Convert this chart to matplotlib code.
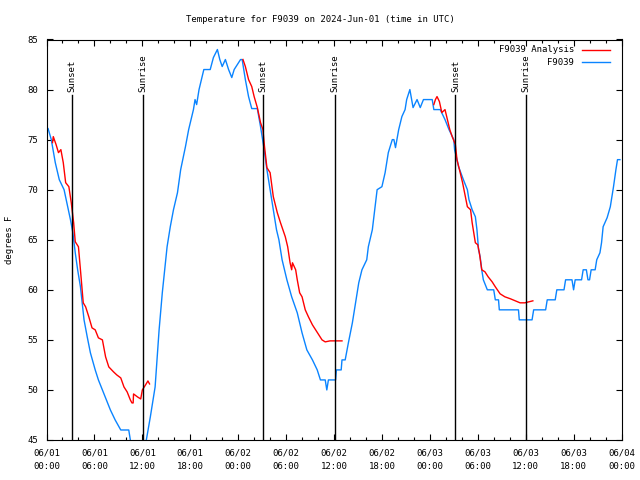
import numpy as np
import matplotlib
matplotlib.use('Agg')
import matplotlib.pyplot as plt
from matplotlib.ticker import MultipleLocator

# hours since 2024-06-01 00:00 UTC
obs_hours = [0.2, 0.6, 1.1, 1.6, 2.2, 2.6, 3.0, 3.3, 3.6, 3.9, 4.25, 4.7, 5.1, 5.5, 6.1, 6.5,
             7.0, 7.5, 8.0, 8.6, 9.3, 10.3, 10.5, 11.0, 12.0, 12.5, 13.0, 13.6, 14.1, 14.5, 15.1,
             15.5, 15.9, 16.4, 16.8, 17.4, 17.8, 18.4, 18.6, 18.8, 19.1, 19.7, 20.5, 20.9, 21.4,
             21.7, 22.0, 22.4, 22.8, 23.2, 23.5, 23.9, 24.3, 24.5, 24.9, 25.3, 25.7, 26.4, 26.8,
             27.2, 27.6, 28.0, 28.4, 28.8, 29.1, 29.5, 30.1, 30.7, 31.4, 32.0, 32.6, 33.3, 33.9,
             34.3, 34.9, 35.1, 35.3, 36.2, 36.3, 36.9, 37.0, 37.4, 37.8, 38.3, 38.7, 39.1, 39.5,
             40.1, 40.3, 40.8, 41.2, 41.4, 42.0, 42.4, 42.8, 43.3, 43.5, 43.7, 44.1, 44.5, 44.9,
             45.1, 45.5, 45.9, 46.4, 46.8, 47.2, 48.3, 48.5, 49.3, 49.9, 50.4, 51.0, 51.1, 51.6,
             52.2, 52.7, 52.9, 53.3, 53.7, 53.9, 54.1, 54.3, 54.5, 54.7, 55.2, 56.0, 56.2, 56.6,
             56.7, 59.1, 59.2, 60.8, 61.0, 62.5, 62.7, 63.7, 63.9, 64.8, 65.0, 65.8, 66.0, 66.2,
             67.0, 67.2, 67.6, 67.8, 68.0, 68.2, 68.7, 68.9, 69.3, 69.5, 69.7, 70.2, 70.6, 71.0,
             71.3, 71.5, 71.8]
obs_temp = [76.1, 75.0, 72.7, 71.0, 70.0, 68.5, 67.0, 65.7, 63.7, 62.0, 60.3, 57.0, 55.3, 53.7,
            52.0, 51.0, 50.0, 49.0, 48.0, 47.0, 46.0, 46.0, 45.0, 44.0, 44.0, 45.0, 47.3, 50.3,
            56.0, 59.7, 64.3, 66.3, 68.0, 69.7, 72.0, 74.3, 76.0, 78.0, 79.0, 78.5, 80.0, 82.0,
            82.0, 83.2, 84.0, 83.0, 82.3, 83.0, 82.0, 81.2, 82.0, 82.5, 83.0, 83.0, 81.0, 79.3,
            78.1, 78.1, 76.3, 74.3, 72.0, 70.0, 68.0, 66.0, 65.0, 63.0, 61.0, 59.3, 57.7, 55.7,
            54.0, 53.0, 52.0, 51.0, 51.0, 50.0, 51.0, 51.0, 52.0, 52.0, 53.0, 53.0, 54.7, 56.7,
            58.7, 60.7, 62.0, 63.0, 64.3, 66.0, 68.7, 70.0, 70.3, 71.7, 73.7, 75.0, 75.0, 74.2,
            76.0, 77.3, 78.0, 79.0, 80.0, 78.2, 79.0, 78.2, 79.0, 79.0, 78.0, 78.0, 77.0, 76.0,
            75.0, 74.0, 72.3, 71.0, 70.0, 69.0, 68.0, 67.3, 66.0, 64.0, 63.3, 62.0, 61.0, 60.0,
            60.0, 59.0, 59.0, 58.0, 58.0, 57.0, 57.0, 58.0, 58.0, 59.0, 59.0, 60.0, 60.0, 61.0,
            61.0, 60.0, 61.0, 61.0, 62.0, 62.0, 61.0, 61.0, 62.0, 62.0, 63.0, 63.7, 64.7, 66.3,
            67.2, 68.3, 70.3, 72.0, 73.0, 73.0]

# analysis runs (three separate nights)
ana1_hours = [0.75, 0.85, 1.2, 1.5, 1.8, 2.1, 2.4, 2.8, 3.1, 3.4, 3.6, 4.0, 4.25, 4.6, 4.9, 5.3,
              5.7, 6.1, 6.5, 7.0, 7.4, 7.8, 8.4, 8.8, 9.3, 9.7, 10.1, 10.5, 10.7, 10.85, 10.9,
              11.4, 11.8, 12.0, 12.4, 12.7, 12.9]
ana1_temp = [74.7, 75.3, 74.5, 73.7, 74.0, 72.7, 70.7, 70.3, 68.7, 66.7, 64.8, 64.3, 62.0, 58.7,
             58.3, 57.3, 56.2, 56.0, 55.2, 55.0, 53.3, 52.3, 51.8, 51.5, 51.2, 50.3, 49.8, 49.0,
             48.7, 48.7, 49.6, 49.3, 49.1, 50.0, 50.5, 50.9, 50.6]
ana2_hours = [24.6, 24.9, 25.3, 25.7, 26.0, 26.4, 26.8, 27.1, 27.3, 27.6, 28.0, 28.4, 28.9, 29.3,
              29.9, 30.2, 30.5, 30.7, 30.8, 31.2, 31.4, 31.7, 32.0, 32.4, 32.8, 33.3, 33.7, 34.1,
              34.5, 34.9, 35.5, 36.2, 37.0]
ana2_temp = [83.0, 82.3, 81.0, 80.3, 79.3, 78.2, 76.7, 76.0, 74.3, 72.2, 71.7, 69.3, 67.7, 66.7,
             65.3, 64.3, 62.7, 62.0, 62.7, 62.0, 61.0, 59.7, 59.3, 58.0, 57.3, 56.5, 56.0, 55.5,
             55.0, 54.8, 54.9, 54.9, 54.9]
ana3_hours = [48.5, 48.7, 48.9, 49.2, 49.5, 49.9, 50.2, 50.5, 50.8, 51.2, 51.4, 51.8, 52.1, 52.4,
              52.7, 53.1, 53.3, 53.5, 53.7, 54.0, 54.2, 54.5, 54.9, 55.3, 55.8, 56.2, 56.8, 57.4,
              58.1, 58.7, 59.3, 59.9, 60.4, 60.9]
ana3_temp = [78.5, 79.0, 79.3, 78.8, 77.7, 78.0, 77.0, 76.0, 75.3, 74.5, 73.0, 71.7, 70.7, 69.5,
             68.3, 68.0, 66.7, 65.7, 64.7, 64.5, 63.7, 62.0, 61.8, 61.3, 60.8, 60.3, 59.6, 59.3,
             59.1, 58.9, 58.7, 58.7, 58.8, 58.9]

event_hours = [3.23, 12.13, 27.15, 36.17, 51.2, 60.08]
event_names = ['Sunset', 'Sunrise', 'Sunset', 'Sunrise', 'Sunset', 'Sunrise']

tick_hours = list(range(0, 73, 6))
tick_labels = ['06/01\n00:00', '06/01\n06:00', '06/01\n12:00', '06/01\n18:00',
               '06/02\n00:00', '06/02\n06:00', '06/02\n12:00', '06/02\n18:00',
               '06/03\n00:00', '06/03\n06:00', '06/03\n12:00', '06/03\n18:00',
               '06/04\n00:00']

plt.rcParams['font.family'] = ['DejaVu Sans Mono']
plt.rcParams['font.size'] = 6.5

fig = plt.figure(figsize=(6.4, 4.8), dpi=100)
ax = fig.add_axes([46.5 / 640, 1 - 440 / 480, 575 / 640, 400.5 / 480])

blue = '#0a84ff'
red = '#ff0000'
ax.plot(obs_hours, obs_temp, color=blue, lw=1.0)
for hrs, tmp in [(ana1_hours, ana1_temp), (ana2_hours, ana2_temp), (ana3_hours, ana3_temp)]:
    ax.plot(hrs, tmp, color=red, lw=1.0)

# sunrise / sunset markers
for h, name in zip(event_hours, event_names):
    ax.plot([h, h], [45, 79.5], color='black', lw=1.0)
    ax.text(h, 79.75, name, rotation=90, ha='center', va='bottom', fontsize=6.5)

ax.set_xlim(0, 72)
ax.set_ylim(45, 85)
ax.set_xticks(tick_hours)
ax.set_xticklabels(tick_labels, linespacing=1.6)
ax.xaxis.set_minor_locator(MultipleLocator(2))
ax.set_yticks(range(45, 86, 5))
ax.tick_params(which='both', direction='in', top=True, right=True, width=0.8)
ax.tick_params(which='major', length=4.5, pad=6)
ax.tick_params(which='minor', length=2.2)
ax.tick_params(axis='x', which='major', pad=6)
for s in ax.spines.values():
    s.set_linewidth(0.8)

# legend, gnuplot style: right-aligned text, sample on the right
for row, (label, col) in enumerate([('F9039 Analysis', red), ('F9039', blue)]):
    yy = 0.974 - row * 0.031
    ax.text(0.917, yy, label, transform=ax.transAxes, ha='right', va='center', fontsize=6.5)
    ax.plot([0.931, 0.98], [yy, yy], transform=ax.transAxes, color=col, lw=1.0)

fig.text(0.5, 1 - 19 / 480, 'Temperature for F9039 on 2024-Jun-01 (time in UTC)',
         ha='center', va='center', fontsize=6.5)
fig.text(10 / 640, 0.5, 'degrees F', rotation=90, ha='center', va='center', fontsize=6.5)

fig.savefig('out.png', dpi=100)
